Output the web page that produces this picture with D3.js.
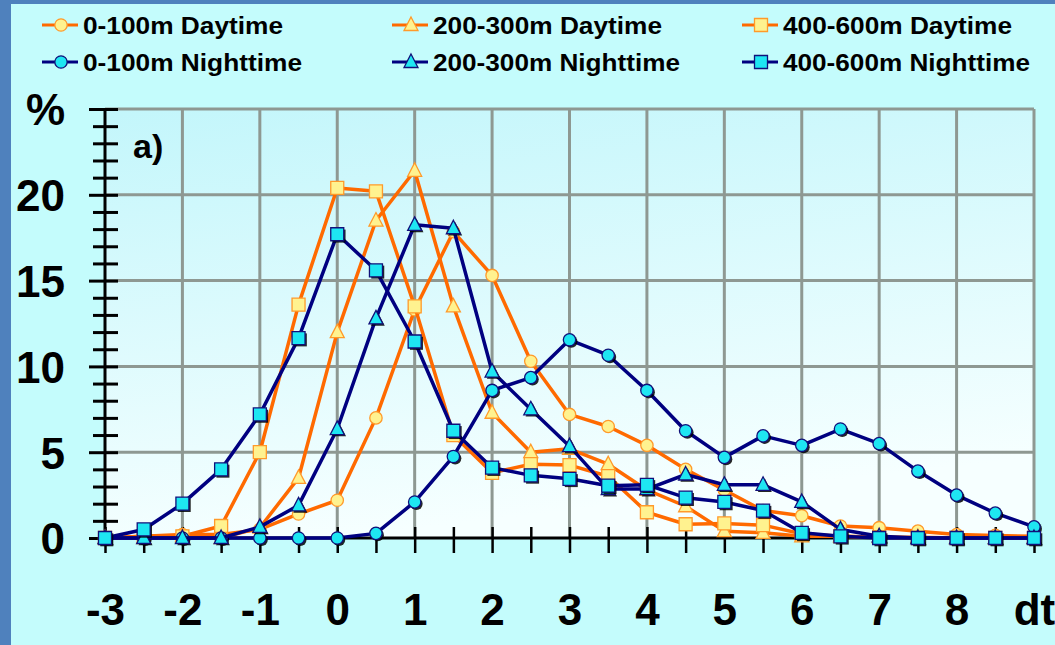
<!DOCTYPE html>
<html><head><meta charset="utf-8">
<script src="https://cdn.jsdelivr.net/npm/d3@7"></script>
<style>
html,body{margin:0;padding:0;background:#c4fcfc;}
svg{display:block;font-family:"Liberation Sans",Arial,sans-serif;font-weight:bold;}
</style></head>
<body>
<script>
// ---- data ----
const dt = [-3,-2.5,-2,-1.5,-1,-0.5,0,0.5,1,1.5,2,2.5,3,3.5,4,4.5,5,5.5,6,6.5,7,7.5,8,8.5,9];
const day0_100   = [0,0.1,0.2,0.2,0.5,1.4,2.2,7.0,13.3,17.85,15.3,10.3,7.2,6.5,5.4,4.0,2.8,1.6,1.3,0.7,0.6,0.4,0.2,0.15,0.1];
const day200_300 = [0,0,0.1,0,0.6,3.5,12.0,18.5,21.4,13.5,7.3,5.0,5.2,4.3,2.8,1.85,0.4,0.3,0.1,0.1,0.05,0.05,0,0,0];
const day400_600 = [0,0.1,0.1,0.7,5.0,13.6,20.4,20.2,13.5,6.0,3.8,4.3,4.25,3.6,1.5,0.8,0.85,0.75,0.25,0.1,0.05,0,0,0,0];
const night0_100   = [0,0,0,0,0,0,0,0.27,2.1,4.75,8.6,9.35,11.55,10.65,8.6,6.25,4.7,5.95,5.4,6.35,5.5,3.9,2.5,1.45,0.65];
const night200_300 = [0,0,0,0,0.65,1.9,6.35,12.8,18.25,18.05,9.7,7.5,5.35,2.85,2.85,3.7,3.1,3.1,2.1,0.5,0.1,0,0,0,0];
const night400_600 = [0,0.5,2.0,4.0,7.2,11.65,17.7,15.6,11.45,6.25,4.1,3.65,3.45,3.05,3.1,2.35,2.1,1.6,0.3,0.1,0,0,0,0,0];
const seriesNames = ["0-100m Daytime","200-300m Daytime","400-600m Daytime","0-100m Nighttime","200-300m Nighttime","400-600m Nighttime"];
const yTickLabels = {0:"0",5:"5",10:"10",15:"15",20:"20",25:"%"};
const xTickLabels = {"-3":"-3","-2":"-2","-1":"-1","0":"0","1":"1","2":"2","3":"3","4":"4","5":"5","6":"6","7":"7","8":"8","9":"dt"};
const panelLabel = "a)";

// ---- setup ----
const W = 1055, H = 645;
const svg = d3.select("body").append("svg").attr("width", W).attr("height", H);
const defs = svg.append("defs");
const grad = defs.append("linearGradient").attr("id","plotbg").attr("x1",0).attr("y1",0).attr("x2",0.25).attr("y2",1);
grad.append("stop").attr("offset","0%").attr("stop-color","#c3f6fb");
grad.append("stop").attr("offset","100%").attr("stop-color","#f6ffff");

svg.append("rect").attr("width",W).attr("height",H).attr("fill","#c4fcfc");
svg.append("rect").attr("x",0).attr("y",0).attr("width",W).attr("height",4).attr("fill","#4f81bd");
svg.append("rect").attr("x",0).attr("y",0).attr("width",11).attr("height",H).attr("fill","#4f81bd");

const x = d3.scaleLinear().domain([-3,9]).range([105,1034]);
const y = d3.scaleLinear().domain([0,25]).range([538,109]);

svg.append("rect").attr("x",x(-3)).attr("y",y(25)).attr("width",x(9)-x(-3)).attr("height",y(0)-y(25)).attr("fill","url(#plotbg)");

// grid
const grid = svg.append("g").attr("stroke","#8e9892").attr("stroke-width",3);
grid.selectAll("line.h").data([5,10,15,20,25]).join("line").attr("class","h")
  .attr("x1",x(-3)).attr("x2",x(9)).attr("y1",d=>y(d)).attr("y2",d=>y(d));
grid.selectAll("line.v").data(d3.range(-2,10,1)).join("line").attr("class","v")
  .attr("y1",y(25)).attr("y2",y(0)).attr("x1",d=>x(d)).attr("x2",d=>x(d));

// y axis
const yAxis = d3.axisLeft(y).tickValues(d3.range(0,26,1)).tickSize(16).tickPadding(24)
  .tickFormat(d => yTickLabels[d] !== undefined ? yTickLabels[d] : "");
const gy = svg.append("g").attr("transform",`translate(${x(-3)},0)`).call(yAxis);
gy.select(".domain").remove();
gy.selectAll(".tick line").attr("stroke","#000").attr("stroke-width",3)
  .attr("x1",d => d%5===0 ? -16 : -12).attr("x2",13);
gy.selectAll(".tick text").attr("fill","#000").attr("font-size",44).attr("font-weight","bold")
  .attr("font-family","'Liberation Sans',Arial,sans-serif").attr("x",-40).attr("dy","0.36em");
svg.append("line").attr("x1",x(-3)).attr("x2",x(-3)).attr("y1",y(25)).attr("y2",y(0)+2).attr("stroke","#000").attr("stroke-width",3);

// x axis
const xAxis = d3.axisBottom(x).tickValues(d3.range(-3,9.01,0.5)).tickSize(15).tickPadding(0)
  .tickFormat(d => xTickLabels[String(d)] !== undefined ? xTickLabels[String(d)] : "");
const gx = svg.append("g").attr("transform",`translate(0,${y(0)})`).call(xAxis);
gx.select(".domain").remove();
gx.selectAll(".tick line").attr("stroke","#000").attr("stroke-width",2.5).attr("y1",-11).attr("y2",15);
gx.selectAll(".tick text").attr("fill","#000").attr("font-size",44).attr("font-weight","bold")
  .attr("font-family","'Liberation Sans',Arial,sans-serif").attr("y",87).attr("dy","0");
svg.append("line").attr("x1",x(-3)).attr("x2",x(9)).attr("y1",y(0)).attr("y2",y(0)).attr("stroke","#000").attr("stroke-width",3);

svg.append("text").attr("x",133).attr("y",158).attr("font-size",34).attr("fill","#000").text(panelLabel);

// series
const allValues = [day0_100, day200_300, day400_600, night0_100, night200_300, night400_600];
const shapes = ["circle","triangle","square","circle","triangle","square"];
const isDay = [true,true,true,false,false,false];
const lineColor = d => d ? "#ff6a00" : "#000080";
const fillColor = d => d ? "#fff28f" : "#1ee6f2";
const strokeColor = d => d ? "#ff9a2a" : "#10107a";

function markerPath(shape){
  if(shape==="circle") return d3.symbol(d3.symbolCircle, 120)();
  if(shape==="square") return "M-6.5,-6.5H6.5V6.5H-6.5Z";
  return "M0,-8L7,5.5H-7Z";
}

const line = d3.line().x(d=>x(d[0])).y(d=>y(d[1]));
allValues.forEach((vals,i) => {
  const pts = dt.map((t,k)=>[t, vals[k]]);
  const g = svg.append("g");
  g.append("path").attr("d", line(pts)).attr("fill","none")
    .attr("stroke", lineColor(isDay[i])).attr("stroke-width",3.5).attr("stroke-linejoin","round");
  if(!isDay[i]){
    g.selectAll("path.sh").data(pts).join("path").attr("class","sh")
      .attr("d", markerPath(shapes[i]))
      .attr("transform", d=>`translate(${x(d[0])+1.8},${y(d[1])+1.8})`)
      .attr("fill","#000").attr("opacity",0.85);
  }
  g.selectAll("path.mk").data(pts).join("path").attr("class","mk")
    .attr("d", markerPath(shapes[i]))
    .attr("transform", d=>`translate(${x(d[0])},${y(d[1])})`)
    .attr("fill", fillColor(isDay[i])).attr("stroke", strokeColor(isDay[i])).attr("stroke-width",1.3);
});

// legend
const legCols = [42, 392, 742];
const legRows = [25, 62];
const legWidths = [[200,219],[229,247],[229,247]];
seriesNames.forEach((name,i) => {
  const col = i%3, row = isDay[i] ? 0 : 1;
  const lx = legCols[col], ly = legRows[row];
  const g = svg.append("g");
  g.append("line").attr("x1",lx).attr("x2",lx+36).attr("y1",ly).attr("y2",ly)
    .attr("stroke", lineColor(isDay[i])).attr("stroke-width",3);
  g.append("path").attr("d", markerPath(shapes[i])).attr("transform",`translate(${lx+19},${ly})`)
    .attr("fill", fillColor(isDay[i])).attr("stroke", strokeColor(isDay[i])).attr("stroke-width",1.3);
  g.append("text").attr("x", lx+41).attr("y", ly+8.5).attr("font-size",24).attr("fill","#000")
    .attr("textLength", legWidths[col][row]).attr("lengthAdjust","spacingAndGlyphs").text(name);
});
</script>
</body></html>
